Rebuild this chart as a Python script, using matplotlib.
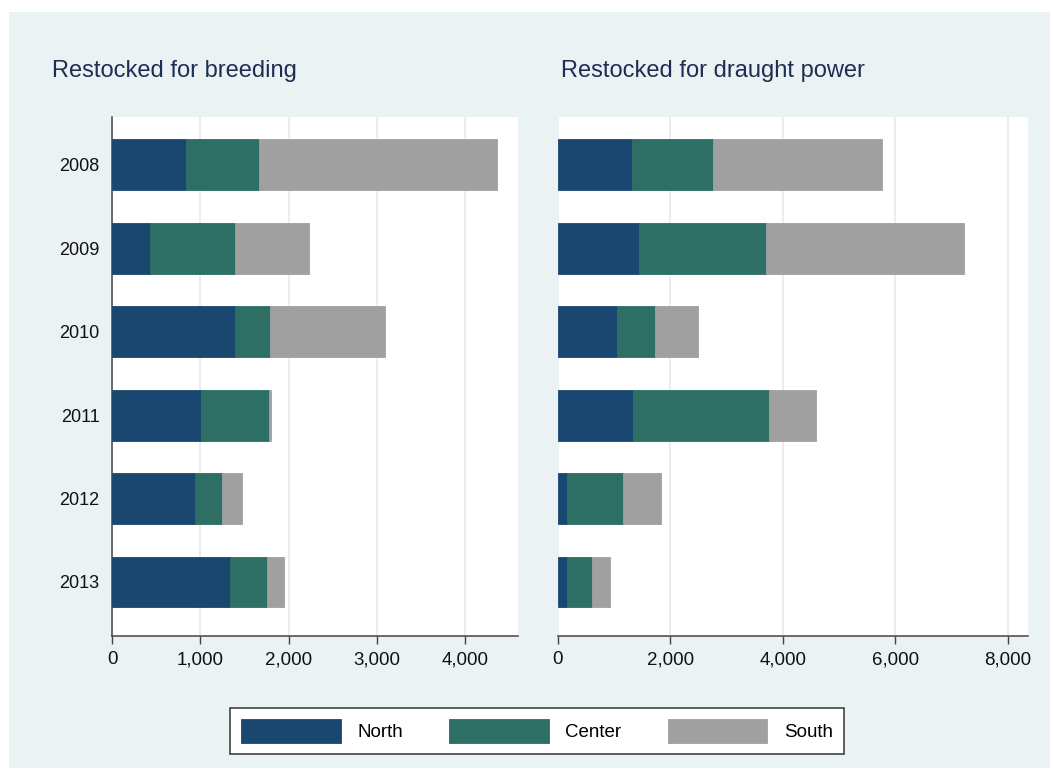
import numpy as np
import matplotlib.pyplot as plt
import matplotlib
from matplotlib.patches import Rectangle
from matplotlib.ticker import FuncFormatter

plt.rcParams['font.family'] = ['Liberation Sans', 'DejaVu Sans']

years = ['2008', '2009', '2010', '2011', '2012', '2013']
regions = ['North', 'Center', 'South']
colors = ['#1A476F', '#2D6E65', '#A0A0A0']

# segment sizes
breeding_north = [838, 434, 1394, 1012, 944, 1341]
breeding_center = [824, 963, 396, 771, 302, 419]
breeding_south = [2704, 832, 1300, 15, 231, 189]

draught_north = [1329, 1454, 1062, 1347, 173, 173]
draught_center = [1441, 2254, 676, 2414, 996, 444]
draught_south = [3002, 3516, 765, 824, 664, 308]

bg = '#EAF2F3'
W, H = 1053, 772
fig = plt.figure(figsize=(W / 100, H / 100), dpi=100, facecolor='white')
fig.patches.append(Rectangle((9 / W, 4 / H), (1050 - 9) / W, (768 - 12) / H,
                             transform=fig.transFigure, facecolor=bg,
                             edgecolor='none', zorder=-10))

def px(x0, y0, x1, y1):
    return [x0 / W, 1 - y1 / H, (x1 - x0) / W, (y1 - y0) / H]

ax1 = fig.add_axes(px(112, 117, 518, 636))
ax2 = fig.add_axes(px(557.5, 117, 1027.5, 636))

panels = [
    (ax1, [breeding_north, breeding_center, breeding_south], 4600, [0, 1000, 2000, 3000, 4000]),
    (ax2, [draught_north, draught_center, draught_south], 8350, [0, 2000, 4000, 6000, 8000]),
]

ypos = np.arange(len(years))
for ax, series, xmax, ticks in panels:
    left = np.zeros(len(years))
    for vals, c, name in zip(series, colors, regions):
        ax.barh(ypos, vals, left=left, height=0.61, color=c, label=name,
                edgecolor=c, linewidth=0.6, zorder=3)
        left += np.array(vals)
    ax.set_xlim(0, xmax)
    ax.set_ylim(5.647, -0.571)
    ax.set_xticks(ticks)
    ax.xaxis.set_major_formatter(FuncFormatter(lambda v, p: f'{int(v):,}'))
    ax.grid(axis='x', color='#E6EEF2', linewidth=1.3, zorder=0)
    ax.set_axisbelow(True)
    for s in ['top', 'right']:
        ax.spines[s].set_visible(False)
    ax.spines['bottom'].set_color('#444444')
    ax.spines['bottom'].set_linewidth(1.1)
    ax.tick_params(axis='x', length=6, width=1.0, color='#444444',
                   labelsize=13.5, pad=5, labelcolor='#111111')
    ax.set_facecolor('white')

ax1.set_yticks(ypos)
ax1.set_yticklabels(years)
ax1.tick_params(axis='y', length=0, pad=9, labelsize=13, labelcolor='#111111')
ax1.spines['left'].set_color('#444444')
ax1.spines['left'].set_linewidth(1.1)

ax2.set_yticks([])
ax2.spines['left'].set_visible(False)

title_color = '#1E2D53'
fig.text(52 / W, 1 - 77 / H, 'Restocked for breeding', fontsize=17,
         color=title_color, ha='left', va='baseline')
fig.text(561 / W, 1 - 77 / H, 'Restocked for draught power', fontsize=17,
         color=title_color, ha='left', va='baseline')

handles, labels = ax1.get_legend_handles_labels()
leg = fig.legend(handles, labels, loc='center', ncol=3,
                 bbox_to_anchor=(537 / W, 1 - 731 / H),
                 fontsize=13.5, handlelength=5.3, handleheight=1.6,
                 handletextpad=0.9, columnspacing=2.45, borderpad=0.6,
                 frameon=True, fancybox=False, framealpha=1)
leg.get_frame().set_edgecolor('#333333')
leg.get_frame().set_linewidth(1.1)
leg.get_frame().set_facecolor('white')

fig.savefig('out.png', dpi=100, facecolor='white')
